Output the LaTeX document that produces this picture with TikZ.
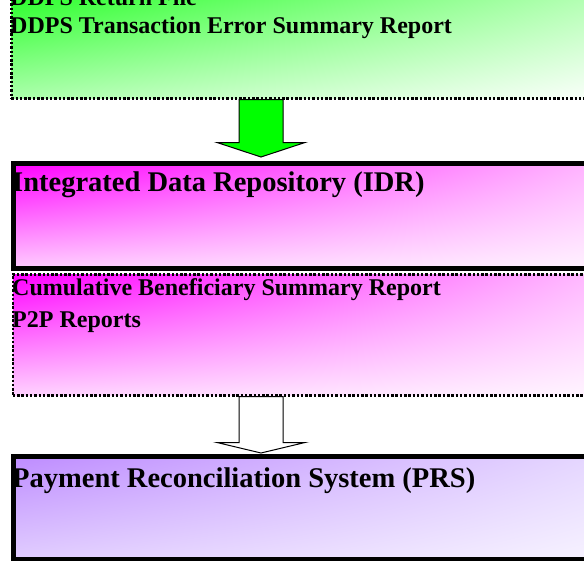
\documentclass[tikz,border=0pt]{standalone}
\usepackage{fontspec}
\setmainfont{Liberation Serif}
\usetikzlibrary{positioning,shadings,calc}

\begin{document}
\begin{tikzpicture}[x=1pt,y=-1pt,
    solidbox/.style={draw=black,line width=5pt,anchor=north west,inner sep=0pt,minimum width=620pt},
    dotbox/.style={draw=black,line width=2.5pt,dash pattern=on 2.5pt off 1.8pt,anchor=north west,inner sep=0pt,minimum width=620pt},
    lbl/.style={anchor=base west,inner sep=0pt,font=\bfseries\fontsize{24}{28}\selectfont},
    biglbl/.style={lbl,font=\bfseries\fontsize{28.5}{34}\selectfont},
    blockarrow/.style={draw=black,line width=1pt,line join=miter}]
  \useasboundingbox (0,0) rectangle (584,560);
  \clip (0,0) rectangle (584,560);
  % boxes
  \node[dotbox,minimum height=137pt,upper left=green,upper right=green!35,lower left=green!33,lower right=white] (ddps) at (10,-40) {};
  \node[solidbox,minimum height=105pt,upper left=magenta,upper right=magenta!24,lower left=magenta!20,lower right=magenta!4] (idr) at (11,161) {};
  \node[dotbox,minimum height=121pt,upper left=magenta,upper right=magenta!22,lower left=magenta!18,lower right=magenta!3] (idrrep) at (11.5,273) {};
  \node[solidbox,minimum height=103pt,upper left={rgb,255:red,190;green,140;blue,255},upper right={rgb,255:red,232;green,220;blue,255},lower left={rgb,255:red,225;green,205;blue,255},lower right={rgb,255:red,248;green,245;blue,255}] (prs) at (11,454) {};
  % labels
  \node[lbl] (ret) at (10,5) {DDPS Return File};
  \node[lbl] (err) at (10,33) {DDPS Transaction Error Summary Report};
  \node[biglbl] (idrname) at (12,191) {Integrated Data Repository (IDR)};
  \node[lbl] (cbsr) at (12,295) {Cumulative Beneficiary Summary Report};
  \node[lbl] (ptp) at (12,327) {P2P Reports};
  \node[biglbl] (prsname) at (12,487) {Payment Reconciliation System (PRS)};
  % block arrows
  \coordinate (axis) at (261,0);
  \draw[blockarrow,fill=green] ($(ddps.south -| axis)+(-22,0)$) -- ++(0,43) -- ++(-22,0)
    -- ($(idr.north -| axis)+(0,-4)$) -- ($(ddps.south -| axis)+(44,43)$) -- ++(-22,0) -- ++(0,-43) -- cycle;
  \draw[blockarrow,fill=white] ($(idrrep.south -| axis)+(-22,0)$) -- ++(0,46) -- ++(-22,0)
    -- ($(prs.north -| axis)+(0,-1)$) -- ($(idrrep.south -| axis)+(44,46)$) -- ++(-22,0) -- ++(0,-46) -- cycle;
\end{tikzpicture}
\end{document}
